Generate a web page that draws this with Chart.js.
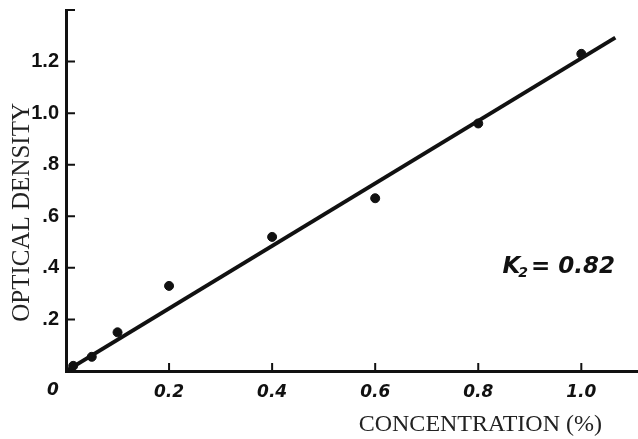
<!DOCTYPE html>
<html>
<head>
<meta charset="utf-8">
<script src="https://cdn.jsdelivr.net/npm/chart.js@4.4.0/dist/chart.umd.min.js"></script>
<style>
html, body { margin: 0; padding: 0; background: #fff; }
</style>
</head>
<body>
<canvas id="chart" width="638" height="439"></canvas>
<script>
// values
var concentration = [0.014, 0.05, 0.1, 0.2, 0.4, 0.6, 0.8, 1.0];
var density = [0.02, 0.055, 0.15, 0.33, 0.52, 0.67, 0.96, 1.23];
// straight line drawn through the points
var fitX = [0, 1.066];
var fitY = [0, 1.293];

var xTicks = [0.2, 0.4, 0.6, 0.8, 1.0];
var xTickLabels = ['0.2', '0.4', '0.6', '0.8', '1.0'];
var yTicks = [0.2, 0.4, 0.6, 0.8, 1.0, 1.2, 1.4];
var yTickLabels = ['.2', '.4', '.6', '.8', '1.0', '1.2', ''];
var xMax = 1.11;
var yMax = 1.4;

var kText = 'K';
var kSub = '2';
var kValue = '= 0.82';
var kAt = { x: 0.847, y: 0.38 };

var ink = '#111';

// tick marks point inward on this plot, plus the shared "0" and the K2 note
var extras = {
    id: 'extras',
    afterDraw: function (chart) {
        var ctx = chart.ctx;
        var xs = chart.scales.x;
        var ys = chart.scales.y;
        var x0 = xs.getPixelForValue(0);
        var y0 = ys.getPixelForValue(0);
        ctx.save();
        ctx.strokeStyle = ink;
        ctx.lineWidth = 2;
        ctx.beginPath();
        yTicks.forEach(function (v) {
            var py = ys.getPixelForValue(v);
            ctx.moveTo(x0, py);
            ctx.lineTo(x0 + 9, py);
        });
        xTicks.forEach(function (v) {
            var px = xs.getPixelForValue(v);
            ctx.moveTo(px, y0);
            ctx.lineTo(px, y0 - 8);
        });
        ctx.stroke();

        ctx.fillStyle = ink;
        ctx.textAlign = 'center';
        ctx.textBaseline = 'middle';
        ctx.font = 'italic bold 17px "DejaVu Sans"';
        ctx.fillText('0', x0 - 13, y0 + 20);

        var kx = xs.getPixelForValue(kAt.x);
        var ky = ys.getPixelForValue(kAt.y);
        ctx.textAlign = 'left';
        ctx.textBaseline = 'alphabetic';
        ctx.font = 'italic bold 23px "DejaVu Sans"';
        ctx.fillText(kText, kx, ky);
        var w = ctx.measureText(kText).width;
        ctx.font = 'italic bold 14px "DejaVu Sans"';
        ctx.fillText(kSub, kx + w - 2, ky + 4);
        var w2 = ctx.measureText(kSub).width;
        ctx.font = 'italic bold 23px "DejaVu Sans"';
        ctx.fillText(kValue, kx + w + w2 + 1, ky);
        ctx.restore();
    }
};

// no extra room for half labels at the ends of the axes
function noEndPadding(scale) {
    scale.paddingTop = 0;
    scale.paddingBottom = 0;
    scale.paddingLeft = 0;
    scale.paddingRight = 0;
}

new Chart(document.getElementById('chart'), {
    type: 'scatter',
    data: {
        datasets: [{
            type: 'line',
            data: fitX.map(function (x, i) { return { x: x, y: fitY[i] }; }),
            borderColor: ink,
            borderWidth: 4,
            pointRadius: 0,
            fill: false
        }, {
            data: concentration.map(function (x, i) { return { x: x, y: density[i] }; }),
            backgroundColor: ink,
            borderColor: ink,
            pointRadius: 4.5
        }]
    },
    options: {
        responsive: false,
        animation: false,
        devicePixelRatio: 1,
        layout: { autoPadding: false, padding: { top: 10, left: 0, right: 0, bottom: 0 } },
        plugins: {
            legend: { display: false },
            tooltip: { enabled: false }
        },
        scales: {
            x: {
                type: 'linear',
                min: 0,
                max: xMax,
                grid: { display: false, drawTicks: false },
                border: { display: true, color: ink, width: 3 },
                afterBuildTicks: function (scale) {
                    scale.ticks = xTicks.map(function (v) { return { value: v }; });
                },
                afterFit: function (scale) {
                    scale.height = 68;
                    noEndPadding(scale);
                },
                ticks: {
                    padding: 11,
                    color: ink,
                    font: { family: 'DejaVu Sans', size: 17, style: 'italic', weight: 'bold' },
                    callback: function (v) {
                        var i = xTicks.indexOf(v);
                        return i < 0 ? '' : xTickLabels[i];
                    }
                },
                title: {
                    display: true,
                    text: 'CONCENTRATION (%)\u00a0\u00a0\u00a0\u00a0\u00a0\u00a0',
                    align: 'end',
                    color: '#222',
                    font: { family: 'Liberation Serif', size: 24 },
                    padding: { top: 0, bottom: 0 }
                }
            },
            y: {
                type: 'linear',
                min: 0,
                max: yMax,
                grid: { display: false, drawTicks: false },
                border: { display: true, color: ink, width: 3 },
                afterBuildTicks: function (scale) {
                    scale.ticks = yTicks.map(function (v) { return { value: v }; });
                },
                afterFit: function (scale) {
                    scale.width = 66;
                    noEndPadding(scale);
                },
                ticks: {
                    padding: 7,
                    color: ink,
                    font: { family: 'Liberation Sans', size: 20, weight: 'bold' },
                    callback: function (v) {
                        var i = yTicks.indexOf(v);
                        return i < 0 ? '' : yTickLabels[i];
                    }
                },
                title: {
                    display: true,
                    text: 'OPTICAL DENSITY\u00a0\u00a0\u00a0\u00a0\u00a0\u00a0\u00a0',
                    color: '#222',
                    font: { family: 'Liberation Serif', size: 25 },
                    padding: { top: 7, bottom: 0 }
                }
            }
        }
    },
    plugins: [extras]
});
</script>
</body>
</html>
